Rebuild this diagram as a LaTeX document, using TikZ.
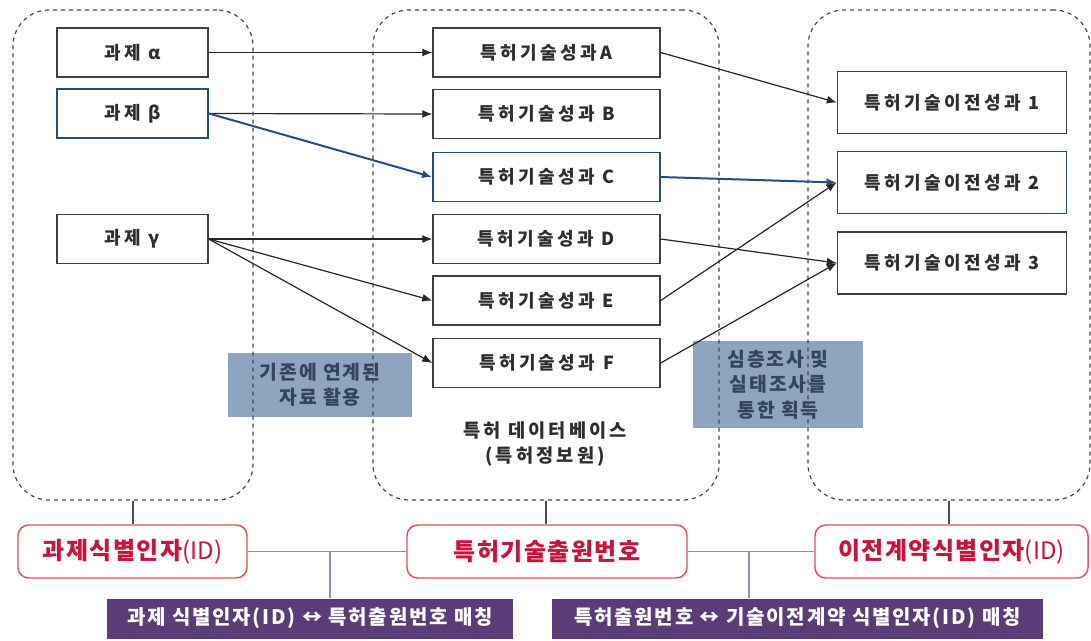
\documentclass[tikz,border=0pt]{standalone}
\usepackage{fontspec}
\setmainfont{Noto Sans CJK KR}
\usetikzlibrary{arrows.meta}
\definecolor{nodeline}{HTML}{404040}
\definecolor{blueline}{HTML}{2A4A8A}
\definecolor{greyblue}{HTML}{8EA4BF}
\definecolor{greytext}{HTML}{34445A}
\definecolor{redline}{HTML}{E0505E}
\definecolor{redtext}{HTML}{C8143A}
\definecolor{purplebox}{HTML}{5A3C78}
\definecolor{linkline}{HTML}{9A88AA}
\tikzset{
  box/.style={draw=nodeline, line width=1.1pt, fill=white, minimum height=36.75pt, inner sep=0pt, font=\fontsize{13.5}{15}\selectfont\bfseries\addfontfeature{LetterSpace=19}, text=black!82},
  leftbox/.style={box, minimum width=113.25pt},
  midbox/.style={box, minimum width=170.25pt},
  rightbox/.style={box, minimum width=171.75pt, minimum height=46.5pt},
  bluebox/.style={draw=blueline, line width=1.4pt},
  container/.style={draw=black!72, dashed, line width=0.9pt, rounded corners=27pt, inner sep=0pt},
  note/.style={fill=greyblue, text=greytext, align=center, inner sep=0pt, font=\fontsize{14.5}{19}\selectfont\bfseries\addfontfeature{LetterSpace=10}},
  dblabel/.style={align=center, font=\fontsize{14}{18.75}\selectfont\bfseries\addfontfeature{LetterSpace=17}, text=black!82},
  idbox/.style={draw=redline, line width=1.1pt, rounded corners=8pt, fill=white, minimum height=39.75pt, inner sep=0pt, text=redtext, font=\fontsize{18}{20}\selectfont\bfseries\addfontfeature{LetterSpace=6}},
  idpart/.style={},
  matchbox/.style={fill=purplebox, text=white, minimum height=30pt, inner sep=0pt, font=\fontsize{15}{17}\selectfont\bfseries\addfontfeature{LetterSpace=9}},
  arr/.style={-{Latex[length=7.5pt,width=6pt]}, line width=0.9pt, draw=black!85},
  bluearr/.style={-{Latex[length=7.5pt,width=6pt]}, line width=1.5pt, draw=blueline},
  link/.style={draw=linkline, line width=0.8pt},
  tick/.style={draw=black!70, line width=1pt}
}
\newcommand{\idtag}{{\mdseries\addfontfeature{LetterSpace=0}(ID)}}
\begin{document}
\begin{tikzpicture}[x=0.75pt, y=-0.75pt]
\useasboundingbox (0,0) rectangle (1091,640);
% notes (under the dashed containers)
\node[note, minimum width=138pt, minimum height=48pt] (n1) at (320,385) {기존에 연계된\\자료 활용};
\node[note, minimum width=127.5pt, minimum height=65.25pt] (n2) at (778,384.5) {심층조사 및\\실태조사를\\통한 획득};
% containers
\node[container, minimum width=180pt, minimum height=367.5pt] (L) at (133,255) {};
\node[container, minimum width=259.5pt, minimum height=367.5pt] (M) at (546,255) {};
\node[container, minimum width=211.5pt, minimum height=367.5pt] (R) at (949,255) {};
% left nodes
\node[leftbox] (ta) at (132.5,52.5) {과제 α};
\node[leftbox, bluebox] (tb) at (132.5,113.5) {과제 β};
\node[leftbox] (tg) at (132.5,239) {과제 γ};
% middle nodes
\node[midbox] (pA) at (546.5,52.5) {특허기술성과A};
\node[midbox] (pB) at (546.5,114) {특허기술성과 B};
\node[midbox, bluebox] (pC) at (546.5,177) {특허기술성과 C};
\node[midbox] (pD) at (546.5,239) {특허기술성과 D};
\node[midbox] (pE) at (546.5,300.5) {특허기술성과 E};
\node[midbox] (pF) at (546.5,363) {특허기술성과 F};
% right nodes
\node[rightbox] (r1) at (952,102.5) {특허기술이전성과 1};
\node[rightbox, bluebox] (r2) at (952,182.5) {특허기술이전성과 2};
\node[rightbox] (r3) at (952,263) {특허기술이전성과 3};
% database label
\node[dblabel] (db) at (545,444.5) {특허 데이터베이스\\(특허정보원)};
% arrows
\draw[arr] (ta.east) -- (pA.west);
\draw[arr] (tb.east) -- (pB.west);
\draw[bluearr] (tb.east) -- (pC.west);
\draw[arr] (tg.east) -- (pD.west);
\draw[arr] (tg.east) -- (pE.west);
\draw[arr] (tg.east) -- (pF.west);
\draw[arr] (pA.east) -- (r1.west);
\draw[bluearr] (pC.east) -- (r2.west);
\draw[arr] (pD.east) -- (r3.west);
\draw[arr] (pE.east) -- (r2.west);
\draw[arr] (pF.east) -- (r3.west);
% id boxes
\node[idbox, minimum width=171.75pt] (i1) at (132.5,551.5) {과제식별인자\idtag};
\node[idbox, minimum width=210pt] (i2) at (547,551.5) {특허기술출원번호};
\node[idbox, minimum width=204.75pt] (i3) at (951.5,551.5) {이전계약식별인자\idtag};
\draw[tick] (L.south) -- (L.south |- i1.north);
\draw[tick] (M.south) -- (M.south |- i2.north);
\draw[tick] (R.south) -- (R.south |- i3.north);
% matching boxes
\node[matchbox, minimum width=304.5pt] (m1) at (310,618.5) {과제 식별인자(ID) ↔ 특허출원번호 매칭};
\node[matchbox, minimum width=368.25pt] (m2) at (797.5,618.5) {특허출원번호 ↔ 기술이전계약 식별인자(ID) 매칭};
\draw[link] (i1.east) -- (i2.west);
\draw[link] (i2.east) -- (i3.west);
\coordinate (j1) at (330,551.5);
\coordinate (j2) at (749,551.5);
\draw[link] (j1) -- (j1 |- m1.north);
\draw[link] (j2) -- (j2 |- m2.north);
\end{tikzpicture}
\end{document}
